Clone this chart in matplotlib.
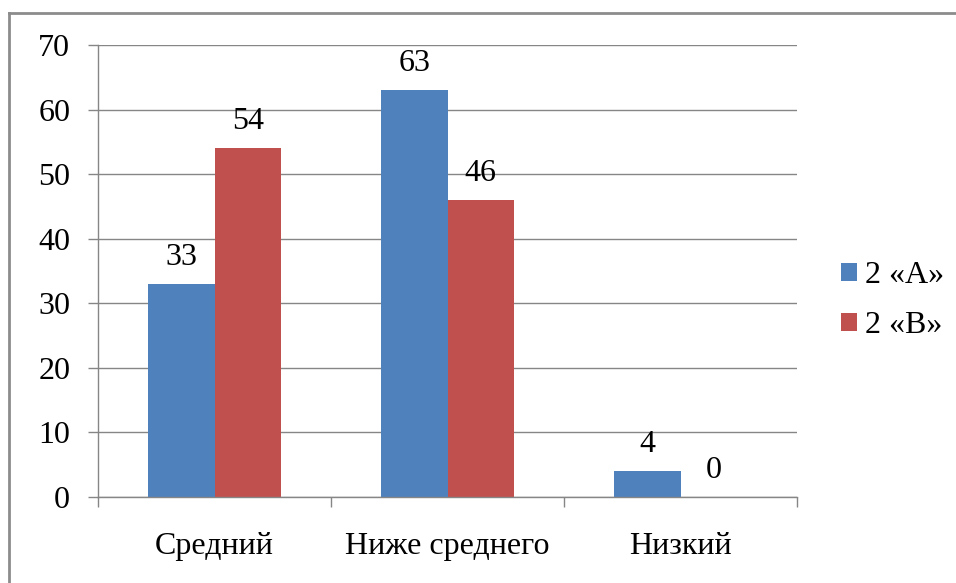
import numpy as np
import matplotlib.pyplot as plt
from matplotlib.lines import Line2D
from matplotlib import font_manager
from matplotlib.font_manager import FontProperties

categories = ['Средний', 'Ниже среднего', 'Низкий']
series_names = ['2 «А»', '2 «В»']
values_a = [33, 63, 4]
values_b = [54, 46, 0]
y_ticks = [0, 10, 20, 30, 40, 50, 60, 70]

fs = 23
serif_path = font_manager.findfont(FontProperties(family='Liberation Serif'))
fp = FontProperties(fname=serif_path, size=fs)

W, H = 956, 583
fig = plt.figure(figsize=(W / 100, H / 100), dpi=100)
ax = fig.add_axes([98 / W, 1 - 497 / H, (797 - 98) / W, (497 - 45) / H])

blue = '#4F81BD'
red = '#C0504D'
grid = '#868686'

x = np.arange(len(categories))
w = 1 / 3.5
ax.bar(x - w / 2, values_a, w, color=blue, label=series_names[0])
ax.bar(x + w / 2, values_b, w, color=red, label=series_names[1])

for xi, v in zip(x - w / 2, values_a):
    ax.text(xi, v + 1.9, str(v), ha='center', va='bottom', fontproperties=fp)
for xi, v in zip(x + w / 2, values_b):
    ax.text(xi, v + 1.9, str(v), ha='center', va='bottom', fontproperties=fp)

ax.set_xlim(-0.5, len(categories) - 0.5)
ax.set_ylim(0, 70)
ax.set_yticks(y_ticks)
ax.yaxis.grid(True, color=grid, linewidth=1)
ax.set_axisbelow(True)

ax.set_xticks(x)
ax.set_xticklabels(categories)
ax.set_xticks(np.arange(-0.5, len(categories)), minor=True)
ax.tick_params(axis='x', which='major', length=0, pad=25.5)
ax.tick_params(axis='x', which='minor', length=7, width=1, color=grid, direction='out')
ax.tick_params(axis='y', length=7, width=1, color=grid, pad=13)
for lbl in ax.get_xticklabels() + ax.get_yticklabels():
    lbl.set_fontproperties(fp)

for side in ['top', 'right']:
    ax.spines[side].set_visible(False)
for side in ['left', 'bottom']:
    ax.spines[side].set_color(grid)
    ax.spines[side].set_linewidth(1)

ax.legend(loc='center left', bbox_to_anchor=(1.022, 0.434), frameon=False,
          prop=fp, handlelength=0.5, handleheight=0.5,
          handletextpad=0.25, labelspacing=0.65)

# outer chart border (only top and left visible in the crop)
fig.add_artist(Line2D([9 / W, 9 / W], [0, 1 - 13 / H], color='#8c8c8c', linewidth=2))
fig.add_artist(Line2D([9 / W, 1], [1 - 13 / H, 1 - 13 / H], color='#8c8c8c', linewidth=2))

fig.savefig('out.png', dpi=100)
